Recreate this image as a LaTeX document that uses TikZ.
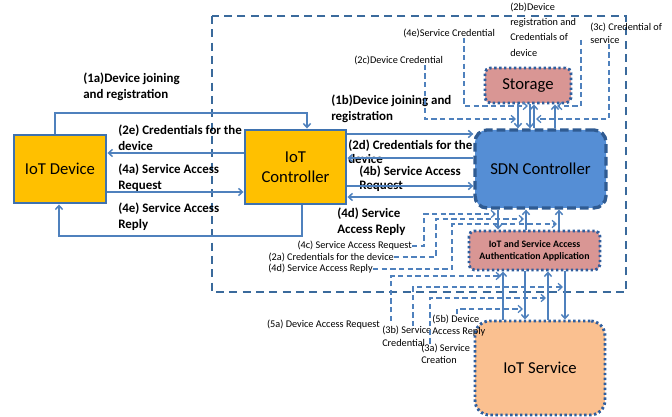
\documentclass[tikz,border=0pt]{standalone}
\usepackage{fontspec}
\setmainfont{Carlito}
\usetikzlibrary{arrows.meta,calc}
\definecolor{gold}{HTML}{FFC000}
\definecolor{devb}{HTML}{3F72AF}
\definecolor{sdnfill}{HTML}{558ED5}
\definecolor{sdnb}{HTML}{2F5B92}
\definecolor{pinkfill}{HTML}{D99694}
\definecolor{dotb}{HTML}{2F5E9E}
\definecolor{svcfill}{HTML}{FAC090}
\definecolor{lblue}{HTML}{4F81BD}
\definecolor{rectb}{HTML}{3A6A9C}
\tikzset{
  devbox/.style={draw=devb, line width=2.2pt, fill=gold, align=center, inner sep=0pt,
    font=\fontsize{12.5}{15}\selectfont},
  sdnbox/.style={draw=sdnb, line width=2.5pt, dash pattern=on 6.5pt off 3pt, fill=sdnfill,
    rounded corners=9pt, align=center, inner sep=0pt, font=\fontsize{12.5}{15}\selectfont},
  pinkbox/.style={draw=dotb, line width=2.2pt, dash pattern=on 1.8pt off 1.9pt, fill=pinkfill,
    rounded corners=4pt, align=center, inner sep=0pt},
  svcbox/.style={draw=dotb, line width=2.2pt, dash pattern=on 1.8pt off 1.9pt, fill=svcfill,
    rounded corners=11pt, align=center, inner sep=0pt, font=\fontsize{12.5}{15}\selectfont},
  biglbl/.style={font=\bfseries\fontsize{9.7}{12}\selectfont, align=left, inner sep=0pt},
  tightlbl/.style={font=\bfseries\fontsize{9.7}{10.5}\selectfont, align=left, inner sep=0pt},
  smlbl/.style={font=\fontsize{7.7}{9.4}\selectfont, align=left, inner sep=0pt},
  sl/.style={draw=lblue, line width=1.1pt},
  dl/.style={draw=lblue, line width=1pt, dash pattern=on 4pt off 2.5pt},
  bigrect/.style={draw=rectb, line width=1.5pt, dash pattern=on 6pt off 4pt},
  >={Straight Barb[length=3pt,width=5.5pt]}
}
\begin{document}
\begin{tikzpicture}[x=0.75pt,y=-0.75pt]
\useasboundingbox (0,0) rectangle (672,417);
% outer dashed region
\draw[bigrect] (212,16) rectangle (626,292);

% helper coordinates
\foreach \xx in {55,59,302,307,391,413,425,430,457,464,498,503,518,525,526,530,534,548,555,559,565,581,609}
  {\coordinate (x\xx) at (\xx,0);}
\foreach \yy in {134,153,158,186,192,197}
  {\coordinate (y\yy) at (0,\yy);}

% nodes
\node[devbox, minimum width=69pt, minimum height=51pt] (dev) at (60,169) {IoT Device};
\node[devbox, minimum width=75.75pt, minimum height=55.5pt] (ctrl) at (295.5,167) {IoT\\Controller};
\node[sdnbox, minimum width=98.25pt, minimum height=58.5pt] (sdn) at (540.5,169) {SDN Controller};
\node[pinkbox, minimum width=64.5pt, minimum height=26.25pt, font=\fontsize{12.5}{15}\selectfont] (storage) at (528,85.5) {Storage};
\node[pinkbox, minimum width=98.25pt, minimum height=29.25pt, font=\bfseries\fontsize{7.4}{9}\selectfont] (auth) at (534.5,250.5) {IoT and Service Access\\Authentication Application};
\node[svcbox, minimum width=97.5pt, minimum height=70.5pt] (svc) at (540,368) {IoT Service};

% bold labels
\node[biglbl, anchor=west] (l1a) at (83,86.5) {(1a)Device joining\\and registration};
\node[biglbl, anchor=west] (l2e) at (118,138) {(2e) Credentials for the\\device};
\node[biglbl, anchor=west] (l4a) at (118,177.5) {(4a) Service Access\\Request};
\node[biglbl, anchor=west] (l4e) at (118,217) {(4e) Service Access\\Reply};
\node[biglbl, anchor=west] (l1b) at (331,109) {(1b)Device joining and\\registration};
\node[tightlbl, anchor=west] (l2d) at (348,152) {(2d) Credentials for the\\device};
\node[tightlbl, anchor=west] (l4b) at (359,178.5) {(4b) Service Access\\Request};
\node[biglbl, anchor=west] (l4d) at (337,221.5) {(4d) Service\\Access Reply};

% small labels
\node[smlbl, anchor=west] (l4es) at (403,33) {(4e)Service Credential};
\node[smlbl, anchor=west, font=\fontsize{7.7}{11.5}\selectfont] (l2b) at (510,29.5) {(2b)Device\\registration and\\Credentials of\\device};
\node[smlbl, anchor=west] (l2c) at (354,60) {(2c)Device Credential};
\node[smlbl, anchor=west] (l3c) at (590,33.5) {(3c) Credential of\\service};
\node[smlbl, anchor=east] (l4c) at (412,246) {(4c) Service Access Request};
\node[smlbl, anchor=east] (l2a) at (394,257) {(2a) Credentials for the device};
\node[smlbl, anchor=east] (l4d2) at (373,269) {(4d) Service Access Reply};
\node[smlbl, anchor=east] (l5a) at (380,325) {(5a) Device Access Request};
\node[smlbl, anchor=west] (l3b) at (382,336.5) {(3b) Service\\Credential};
\node[smlbl, anchor=west] (l3a) at (421,354) {(3a) Service\\Creation};
\node[smlbl, anchor=west] (l5b) at (432,325.5) {(5b) Device\\Access Reply};

% free ends / bends
\coordinate (c1a) at (307,113);
\coordinate (c4eR) at (302,236);
\coordinate (c4eL) at (59,236);
\coordinate (e4es) at (528,106);
\coordinate (s2b) at (581,40);
\coordinate (e2b) at (557,106);
\coordinate (e2c) at (516,119);
\coordinate (e3c) at (536,119);
\coordinate (c4c) at (424,214);
\coordinate (e4c) at (496,214);
\coordinate (c2a) at (436,219);
\coordinate (e2a) at (524,219);
\coordinate (c4d) at (452,224);
\coordinate (e4d) at (557,224);
\coordinate (s5a) at (391,321);
\coordinate (e5a) at (501,276);
\coordinate (e3b) at (563,287);
\coordinate (e3a) at (546,298);
\coordinate (e5b) at (523,309);

% IoT device <-> IoT controller
\draw[sl,->] (dev.north -| x55) |- (c1a) -- (ctrl.north -| c1a);
\draw[sl,->] (ctrl.west |- y153) -- (dev.east |- y153);
\draw[sl,->] (dev.east |- y192) -- (ctrl.west |- y192);
\draw[sl,->] (ctrl.south -| c4eR) -- (c4eR) -- (c4eL) -- (dev.south -| c4eL);

% IoT controller <-> SDN controller
\draw[sl,->] (ctrl.east |- y134) -- (sdn.west |- y134);
\draw[sl,->] (sdn.west |- y158) -- (ctrl.east |- y158);
\draw[sl,->] (ctrl.east |- y186) -- (sdn.west |- y186);
\draw[sl,->] (sdn.west |- y197) -- (ctrl.east |- y197);

% storage <-> SDN
\draw[sl,->] (storage.south -| x518) -- (sdn.north -| x518);
\draw[sl,->] (storage.south -| x530) -- (sdn.north -| x530);
\draw[sl,->] (sdn.north -| x534) -- (storage.south -| x534);
\draw[sl,->] (sdn.north -| x555) -- (storage.south -| x555);

% SDN <-> auth
\draw[sl,->] (sdn.south -| x498) -- (auth.north -| x498);
\draw[sl,->] (auth.north -| x526) -- (sdn.south -| x526);
\draw[sl,->] (auth.north -| x559) -- (sdn.south -| x559);

% auth <-> service
\draw[sl,->] (svc.north -| x503) -- (auth.south -| x503);
\draw[sl,->] (auth.south -| x525) -- (svc.north -| x525);
\draw[sl,->] (svc.north -| x548) -- (auth.south -| x548);
\draw[sl,->] (auth.south -| x565) -- (svc.north -| x565);

% dashed label leaders
\draw[dl,->] (l4es.south -| x464) |- (e4es);
\draw[dl,->] (s2b) |- (e2b);
\draw[dl,->] (l2c.south -| x425) |- (e2c);
\draw[dl,->] (l3c.south -| x609) |- (e3c);
\draw[dl,->] (l4c.east) -| (c4c) -- (e4c);
\draw[dl,->] (l2a.east) -| (c2a) -- (e2a);
\draw[dl,->] (l4d2.east) -| (c4d) -- (e4d);
\draw[dl,->] (s5a) |- (e5a);
\draw[dl,->] (l3b.north -| x413) |- (e3b);
\draw[dl,->] (l3a.north -| x430) |- (e3a);
\draw[dl,->] (l5b.north -| x457) |- (e5b);
\end{tikzpicture}
\end{document}
